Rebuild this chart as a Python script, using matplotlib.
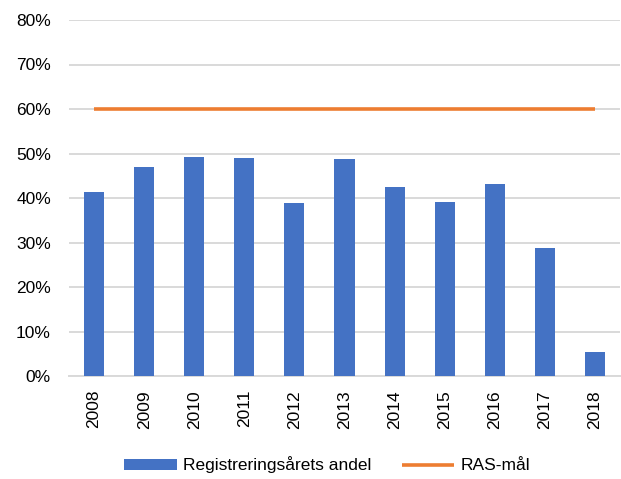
import numpy as np
import matplotlib.pyplot as plt
from matplotlib.ticker import PercentFormatter

plt.rcParams['font.family'] = ['Liberation Sans', 'DejaVu Sans']

years = ['2008', '2009', '2010', '2011', '2012', '2013', '2014', '2015', '2016', '2017', '2018']
andel = [41.4, 46.9, 49.2, 48.9, 38.8, 48.7, 42.4, 39.2, 43.1, 28.7, 5.5]
ras_mal = [60] * len(years)

fig = plt.figure(figsize=(6.21, 4.79), dpi=100)
ax = fig.add_axes([69 / 621, 1 - 376 / 479, 551 / 621, 356 / 479])

x = np.arange(len(years))
bars = ax.bar(x, andel, width=0.4, color='#4472C4', label='Registreringsårets andel', zorder=3)
line, = ax.plot(x, ras_mal, color='#ED7D31', lw=2.6, solid_capstyle='butt', label='RAS-mål', zorder=4)

ax.set_xlim(-0.5, len(years) - 0.5)
ax.set_ylim(0, 80)
ax.set_yticks(np.arange(0, 81, 10))
ax.yaxis.set_major_formatter(PercentFormatter(decimals=0))
ax.set_xticks(x)
ax.set_xticklabels(years, rotation=90)
ax.tick_params(axis='y', length=0, pad=13, labelsize=12.5, colors='#000000')
ax.tick_params(axis='x', length=0, pad=10, labelsize=12.5)

ax.grid(axis='y', color='#d9d9d9', lw=1.4, zorder=0)
for s in ['top', 'right', 'left']:
    ax.spines[s].set_visible(False)
ax.spines['bottom'].set_color('#d9d9d9')
ax.spines['bottom'].set_linewidth(1.4)

fig.legend([bars, line], ['Registreringsårets andel', 'RAS-mål'],
           loc='center', bbox_to_anchor=(0.527, 1 - 465 / 479), ncol=2, frameon=False,
           fontsize=12.5, handlelength=3.0, handleheight=0.66, handletextpad=0.35,
           columnspacing=1.8)

fig.savefig('out.png', dpi=100)
